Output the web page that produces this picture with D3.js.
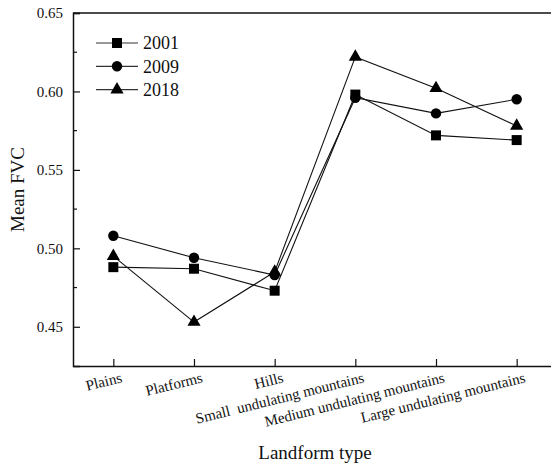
<!DOCTYPE html>
<html>
<head>
<meta charset="utf-8">
<script src="https://cdn.jsdelivr.net/npm/d3@7"></script>
<style>
  html, body { margin: 0; padding: 0; background: #fff; overflow: hidden; }
  svg { display: block; }
  svg text { font-family: 'Liberation Serif', 'Times New Roman', serif; fill: #111; }
</style>
</head>
<body>
<div id="chart"></div>
<script>
const categories = ['Plains', 'Platforms', 'Hills', 'Small  undulating mountains',
  'Medium undulating mountains', 'Large undulating mountains'];
const fvc2001 = [0.488, 0.487, 0.473, 0.598, 0.572, 0.569];
const fvc2009 = [0.508, 0.494, 0.483, 0.596, 0.586, 0.595];
const fvc2018 = [0.495, 0.453, 0.485, 0.622, 0.602, 0.578];
const yTicks = [0.45, 0.50, 0.55, 0.60, 0.65];
const yMinorTicks = [0.475, 0.525, 0.575, 0.625];

const series = [
  {name: '2001', values: fvc2001, symbol: d3.symbolSquare, size: 100},
  {name: '2009', values: fvc2009, symbol: d3.symbolCircle, size: 85},
  {name: '2018', values: fvc2018, symbol: d3.symbolTriangle, size: 75},
];

const width = 551;
const height = 464;
const margin = {top: 13, left: 73, right: -6, bottom: 98};

const svg = d3.select('#chart')
  .append('svg')
  .attr('width', width)
  .attr('height', height);

const x = d3.scalePoint()
  .domain(categories)
  .range([margin.left, width - margin.right])
  .padding(0.5);

const y = d3.scaleLinear()
  .domain([0.425, 0.65])
  .range([height - margin.bottom, margin.top]);

// top border
svg.append('line')
  .attr('x1', margin.left).attr('x2', width - margin.right)
  .attr('y1', margin.top).attr('y2', margin.top)
  .attr('stroke', '#111').attr('stroke-width', 1.6);

// y axis, ticks pointing inward
const yAxis = svg.append('g')
  .attr('transform', `translate(${margin.left},0)`)
  .call(d3.axisLeft(y).tickValues(yTicks).tickSize(-7).tickPadding(10)
    .tickFormat(d3.format('.2f')));
yAxis.attr('font-family', null).attr('font-size', null);
yAxis.select('.domain').attr('stroke', '#111').attr('stroke-width', 1.5);
yAxis.selectAll('.tick line').attr('stroke', '#111').attr('stroke-width', 1.2);
yAxis.selectAll('text').style('font-size', '15px');

svg.append('g')
  .attr('transform', `translate(${margin.left},0)`)
  .selectAll('line')
  .data(yMinorTicks)
  .enter()
  .append('line')
  .attr('x1', 0).attr('x2', 4)
  .attr('y1', d => y(d)).attr('y2', d => y(d))
  .attr('stroke', '#111').attr('stroke-width', 1.2);

// x axis, ticks pointing inward
const xAxis = svg.append('g')
  .attr('transform', `translate(0,${height - margin.bottom})`)
  .call(d3.axisBottom(x).tickSize(-7).tickSizeOuter(0));
xAxis.attr('font-family', null).attr('font-size', null);
xAxis.select('.domain').attr('stroke', '#111').attr('stroke-width', 1.5);
xAxis.selectAll('.tick line').attr('stroke', '#111').attr('stroke-width', 1.2);
xAxis.selectAll('text')
  .style('font-size', '15px')
  .attr('y', 0).attr('dy', 0)
  .style('white-space', 'pre')
  .style('text-anchor', 'end')
  .attr('transform', 'translate(9,16) rotate(-14)');

// axis titles
svg.append('text')
  .attr('transform', `translate(24,${(margin.top + height - margin.bottom) / 2}) rotate(-90)`)
  .attr('text-anchor', 'middle')
  .style('font-size', '19px')
  .text('Mean FVC');

svg.append('text')
  .attr('x', (margin.left + width - margin.right) / 2)
  .attr('y', 459)
  .attr('text-anchor', 'middle')
  .style('font-size', '19px')
  .text('Landform type');

// lines and markers
const line = d3.line()
  .x((d, i) => x(categories[i]))
  .y(d => y(d));

series.forEach((s) => {
  svg.append('path')
    .datum(s.values)
    .attr('d', line)
    .attr('fill', 'none')
    .attr('stroke', '#111')
    .attr('stroke-width', 1.1);

  svg.append('g')
    .selectAll('path')
    .data(s.values)
    .enter()
    .append('path')
    .attr('d', d3.symbol().type(s.symbol).size(s.size))
    .attr('transform', (d, i) => `translate(${x(categories[i])},${y(d)})`)
    .attr('fill', '#000');
});

// legend
const legend = svg.append('g')
  .attr('transform', 'translate(96,43)');

const rows = legend.selectAll('g')
  .data(series)
  .enter()
  .append('g')
  .attr('transform', (d, i) => `translate(0,${i * 23.3})`);

rows.append('line')
  .attr('x1', 0).attr('x2', 42)
  .attr('stroke', '#333').attr('stroke-width', 1.2);

rows.append('path')
  .attr('d', d => d3.symbol().type(d.symbol).size(d.size)())
  .attr('transform', 'translate(21,0)')
  .attr('fill', '#000');

rows.append('text')
  .attr('x', 47)
  .attr('dy', '0.35em')
  .style('font-size', '18px')
  .text(d => d.name);
</script>
</body>
</html>
